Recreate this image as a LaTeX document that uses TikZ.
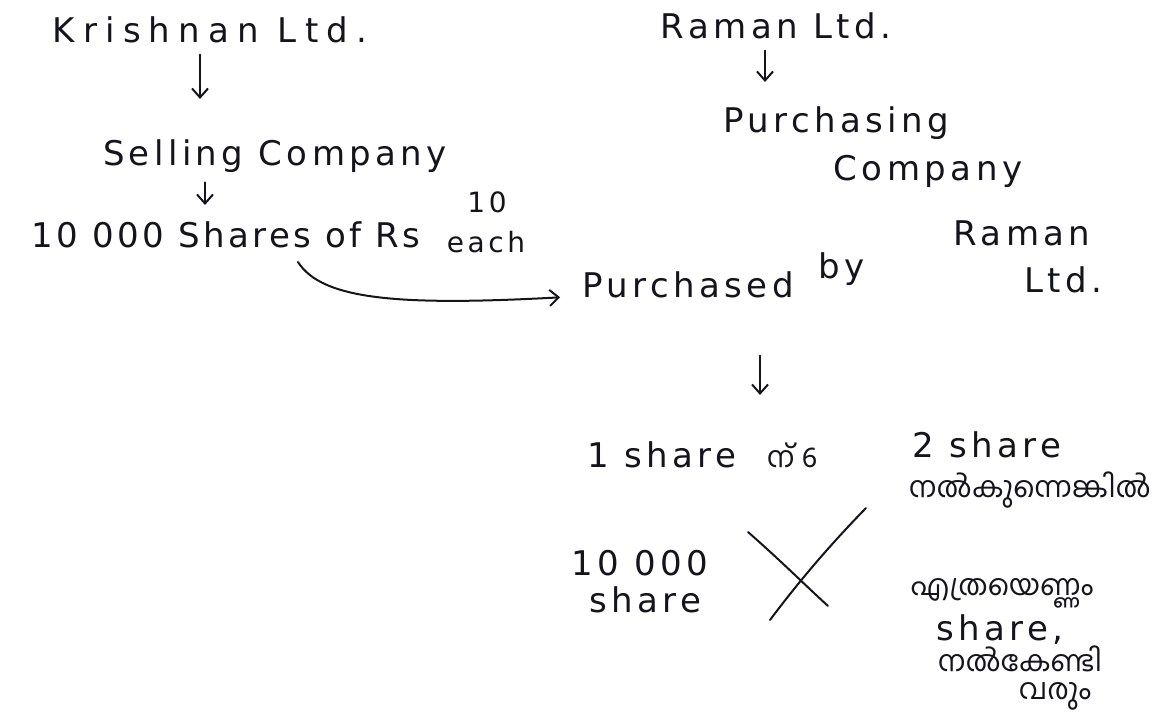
\documentclass[tikz,border=0pt]{standalone}
\usepackage{fontspec}
\usetikzlibrary{arrows.meta}
\newfontfamily\hwfont{DejaVu Sans}[LetterSpace=13]
\newfontfamily\malfont[Script=Malayalam]{Hind Kochi}
\definecolor{ink}{rgb}{0.08,0.08,0.11}
\begin{document}
\begin{tikzpicture}[x=1pt,y=-1pt,
  hw/.style={font=\hwfont\fontsize{34}{38}\selectfont, text=ink, inner sep=0pt, anchor=base},
  hwsmall/.style={font=\hwfont\fontsize{28}{32}\selectfont, text=ink, inner sep=0pt, anchor=base},
  mal/.style={font=\malfont\fontsize{29}{32}\selectfont, text=ink, inner sep=0pt, anchor=base},
  arr/.style={draw=ink, line width=2pt, line cap=round, -{Straight Barb[length=9pt,width=16pt,line width=2pt]}},
  pen/.style={draw=ink, line width=2pt, line cap=round}]
\useasboundingbox (0,0) rectangle (1173,715);
% left column
\node[hw] (krish) at (210,42) {\addfontfeature{LetterSpace=24}Krishnan Ltd.};
\node[hw] (sell) at (275,165) {Selling Company};
\node[hw] (tenk) at (226,247) {\addfontfeature{LetterSpace=10}10 000 Shares of Rs};
\node[hwsmall] (ten) at (487,212) {10};
\node[hwsmall] (each) at (486,252) {each};
% right column
\node[hw] (raman) at (776,38) {Raman Ltd.};
\node[hw] (purch) at (836,132) {Purchasing};
\node[hw] (comp) at (928,180) {Company};
% purchased by
\node[hw] (pd) at (688,297) {Purchased};
\node[hw] (by) at (842,278) {by};
\node[hw] (rm) at (1022,245) {Raman};
\node[hw] (ltd) at (1063,292) {Ltd.};
% bottom
\node[hw] (one) at (662,467) {1 share};
\node[mal] (onem) at (792,467) {ന് 6};
\node[hw] (two) at (987,457) {2 share};
\node[mal] (twom) at (1030,497) {നൽകുന്നെങ്കിൽ};
\node[hw] (tt) at (640,575) {10 000};
\node[hw] (tts) at (645,612) {share};
\node[mal] (q1) at (1002,595) {എത്രയെണ്ണം};
\node[hw] (q2) at (1000,640) {share,};
\node[mal] (q3) at (1020,671) {നൽകേണ്ടി};
\node[mal] (q4) at (1055,699) {വരും};
% arrows
\draw[arr] ([xshift=-10pt,yshift=-12pt]krish.south) -- ([xshift=-75pt,yshift=40pt]sell.north);
\draw[arr] ([xshift=-70pt,yshift=-10pt]sell.south) -- ([xshift=-21pt,yshift=16pt]tenk.north);
\draw[arr] ([xshift=-11pt,yshift=-12pt]raman.south) -- ([xshift=-71pt,yshift=24pt]purch.north);
\coordinate (cs) at (298,262);
\draw[arr] (cs) .. controls (322,300) and (400,306) .. ([xshift=-22pt,yshift=-13pt]pd.west);
\draw[arr] ([xshift=72pt,yshift=-58pt]pd.south) -- ([xshift=98pt,yshift=46pt]one.north);
% cross
\draw[pen] (748,532) .. controls (780,560) and (805,585) .. (828,606);
\draw[pen] (866,508) .. controls (830,545) and (800,580) .. (770,620);
\end{tikzpicture}
\end{document}
